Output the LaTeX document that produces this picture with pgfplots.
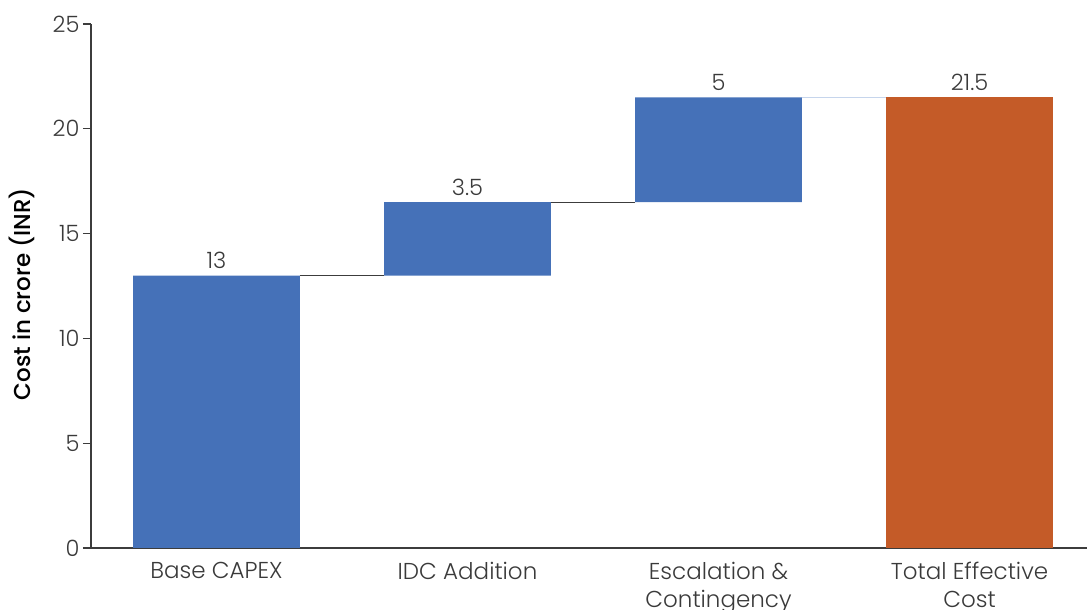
\documentclass[border=0pt]{standalone}
\usepackage{fontspec}
\setmainfont{Poppins}[UprightFont=* Light, BoldFont=* Medium]
\usepackage{pgfplots}
\pgfplotsset{compat=1.18}

\definecolor{barblue}{HTML}{4571B8}
\definecolor{barorange}{HTML}{C45B28}
\definecolor{axisgray}{HTML}{3C3C3C}
\definecolor{textgray}{HTML}{3A3A3A}
\definecolor{linkblue}{HTML}{C6D5EC}

\pgfplotsset{
  wfbase/.style={
    scale only axis, width=996pt, height=524pt,
    xmin=-0.5, xmax=3.468, ymin=0, ymax=25,
  },
}

\begin{document}
\begin{tikzpicture}
\begin{axis}[
  name=ax, wfbase,
  ybar stacked, bar width=0.665,
  axis x line*=bottom, axis y line*=left,
  axis line style={axisgray, line width=1.2pt},
  xtick={0,1,2,3},
  xticklabels={Base CAPEX, IDC Addition, {Escalation \&\\Contingency}, {Total Effective\\Cost}},
  xticklabel style={align=center, font=\fontsize{23}{28}\selectfont, text=textgray, yshift=-2.5pt},
  x tick style={draw=none},
  ytick={0,5,10,15,20,25},
  ytick pos=left,
  tick align=outside,
  y tick style={axisgray, line width=1.2pt},
  major tick length=8pt,
  yticklabel style={font=\fontsize{22.5}{26}\selectfont, text=textgray},
  /pgf/number format/assume math mode=true,
  ylabel={\textbf{Cost in crore (INR)}},
  every axis y label/.style={at={(axis description cs:0,0.5)}, xshift=-69pt, yshift=-8pt,
    rotate=90, anchor=center, font=\fontsize{23}{28}\selectfont, text=black},
]
% invisible offsets that lift each step
\addplot[draw=none, fill=none] coordinates {(0,0) (1,13) (2,16.5) (3,0)};
% incremental cost components
\addplot[draw=none, fill=barblue] coordinates {(0,13) (1,3.5) (2,5) (3,0)};
% resulting total
\addplot[draw=none, fill=barorange] coordinates {(0,0) (1,0) (2,0) (3,21.5)};
\end{axis}
\begin{axis}[wfbase, axis lines=none, clip=false]
% connectors between consecutive bars
\addplot[axisgray, line width=1pt] coordinates {(0.3325,13) (0.6675,13)};
\addplot[axisgray, line width=1pt] coordinates {(1.3325,16.5) (1.6675,16.5)};
\addplot[linkblue, line width=1pt] coordinates {(2.3325,21.5) (2.6675,21.5)};
% step values written above each bar top
\addplot[only marks, mark=none, nodes near coords, point meta=explicit symbolic,
  every node near coord/.append style={anchor=south, yshift=3.5pt,
    font=\fontsize{22.5}{26}\selectfont, text=textgray}]
  coordinates {(0,13) [13] (1,16.5) [3.5] (2,21.5) [5] (3,21.5) [21.5]};
\end{axis}
\pgfresetboundingbox
\path[use as bounding box] ([shift={(-91pt,-62pt)}]ax.south west) rectangle ([shift={(0pt,24pt)}]ax.north east);
\end{tikzpicture}
\end{document}
